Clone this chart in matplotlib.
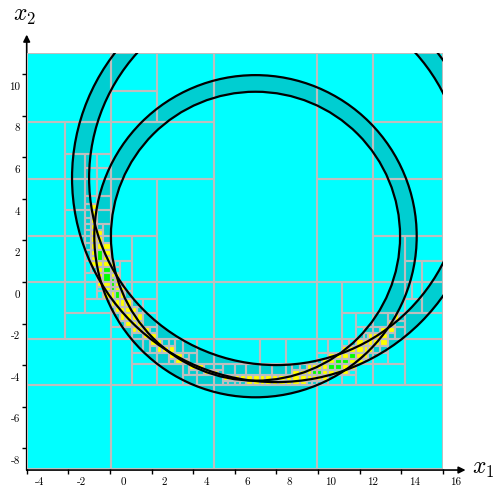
import numpy as np
import matplotlib
matplotlib.use('Agg')
import matplotlib.pyplot as plt
from matplotlib.collections import PolyCollection
from matplotlib.patches import Wedge, Circle
from matplotlib.transforms import ScaledTranslation

plt.rcParams['mathtext.fontset'] = 'cm'

# search domain and paving settings
x_domain = [-4.0, 16.0]
y_domain = [-9.0, 11.0]
eps = 0.4
ratio = 0.45

# the two rings (centre, inner radius, outer radius)
centers = [(8.0, 5.0), (7.0, 2.2)]
radii_in = [9.0, 6.95]
radii_out = [9.82, 7.75]

xticks = [-4, -2, 0, 2, 4, 6, 8, 10, 12, 14, 16]
yticks = [-8, -6, -4, -2, 0, 2, 4, 6, 8, 10]


def sqr(a, b):
    if a <= 0 <= b:
        return 0.0, max(a * a, b * b)
    return min(a * a, b * b), max(a * a, b * b)


def test(box):
    (x0, x1), (y0, y1) = box
    inside = True
    for (cx, cy), r1, r2 in zip(centers, radii_in, radii_out):
        ax_, bx_ = sqr(x0 - cx, x1 - cx)
        ay_, by_ = sqr(y0 - cy, y1 - cy)
        lo, hi = ax_ + ay_, bx_ + by_
        if hi < r1 ** 2 or lo > r2 ** 2:
            return 'out'
        if not (lo >= r1 ** 2 and hi <= r2 ** 2):
            inside = False
    return 'in' if inside else '?'


outside, inner, boundary = [], [], []


def sivia(box):
    res = test(box)
    if res == 'out':
        outside.append(box)
        return
    if res == 'in':
        inner.append(box)
        return
    (x0, x1), (y0, y1) = box
    wx, wy = x1 - x0, y1 - y0
    if max(wx, wy) < eps:
        boundary.append(box)
        return
    # bisect the largest side, ibex style ratio
    if wx >= wy:
        xm = x0 + ratio * wx
        sivia(((x0, xm), (y0, y1)))
        sivia(((xm, x1), (y0, y1)))
    else:
        ym = y0 + ratio * wy
        sivia(((x0, x1), (y0, ym)))
        sivia(((x0, x1), (ym, y1)))


sivia((tuple(x_domain), tuple(y_domain)))


def polys(boxes):
    return [[(a, c), (b, c), (b, d), (a, d)] for (a, b), (c, d) in boxes]


fig = plt.figure(figsize=(4.99, 4.89), dpi=100)
ax = fig.add_axes([26.7 / 499, 19 / 489, 416 / 499, 415.7 / 489])
ax.set_xlim(x_domain)
ax.set_ylim(y_domain)

ax.add_collection(PolyCollection(polys(outside), facecolors='#00ffff', edgecolors='none', zorder=1))
for (cx, cy), r1, r2 in zip(centers, radii_in, radii_out):
    ax.add_patch(Wedge((cx, cy), r2, 0, 360, width=r2 - r1, facecolor='#00ced1', edgecolor='none', zorder=2))
ax.add_collection(PolyCollection(polys(boundary), facecolors='#ffff00', edgecolors='none', zorder=3))
ax.add_collection(PolyCollection(polys(inner), facecolors='#00ff00', edgecolors='none', zorder=3))
ax.add_collection(PolyCollection(polys(outside + boundary + inner), facecolors='none',
                                 edgecolors='#bebebe', linewidths=1.5, zorder=4))
for (cx, cy), r1, r2 in zip(centers, radii_in, radii_out):
    for r in (r1, r2):
        ax.add_patch(Circle((cx, cy), r, fill=False, edgecolor='black', lw=1.6, zorder=5))

for s in ax.spines.values():
    s.set_visible(False)

ax.set_xticks(xticks)
ax.set_yticks(yticks)
ax.set_xticklabels([str(t) for t in xticks], fontfamily='cmr10', fontsize=8)
ax.set_yticklabels([str(t) for t in yticks], fontfamily='cmr10', fontsize=8)
ax.tick_params(direction='out', length=3.5, width=1, color='black', pad=2)
ax.tick_params(axis='y', pad=1)
dx = ScaledTranslation(0.13, 0, fig.dpi_scale_trans)
dy = ScaledTranslation(0, -0.11, fig.dpi_scale_trans)
for lab in ax.get_xticklabels():
    lab.set_transform(lab.get_transform() + dx)
for lab in ax.get_yticklabels():
    lab.set_transform(lab.get_transform() + dy)

arrow = dict(arrowstyle='-|>', color='black', lw=1.2, mutation_scale=10, shrinkA=0, shrinkB=0)
ax.annotate('', xy=(17.1, -9.05), xytext=(-4, -9.05), arrowprops=arrow, annotation_clip=False)
ax.annotate('', xy=(-4, 11.9), xytext=(-4, -9.05), arrowprops=arrow, annotation_clip=False)

fig.text(472 / 499, 1 - 468 / 489, '$x_1$', fontsize=17, ha='left', va='center')
fig.text(24 / 499, 1 - 15 / 489, '$x_2$', fontsize=17, ha='center', va='center')

fig.savefig('out.png', dpi=100)
